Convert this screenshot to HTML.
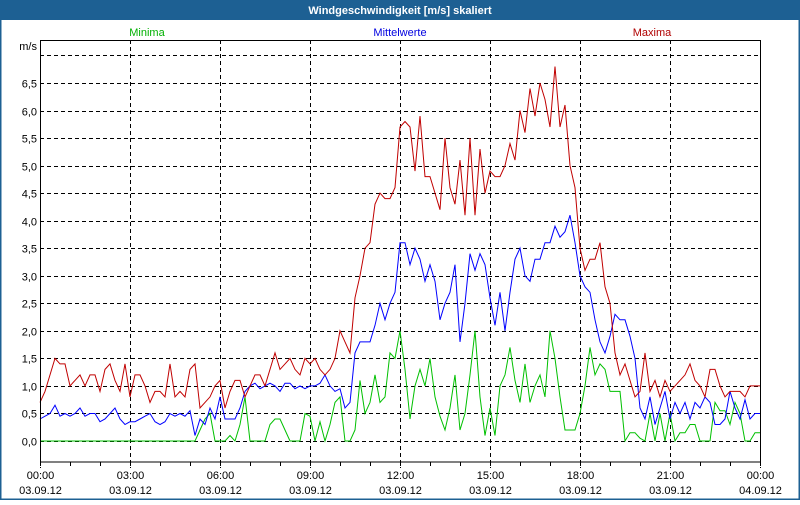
<!DOCTYPE html>
<html><head><meta charset="utf-8"><style>
body{margin:0;background:#fff}
svg text{font-family:"Liberation Sans",sans-serif;font-size:11px}
</style></head><body>
<svg width="800" height="500" xmlns="http://www.w3.org/2000/svg">
<rect x="0" y="0" width="800" height="500" fill="#fff"/>
<rect x="0.5" y="0.5" width="799" height="499" fill="none" stroke="#1d6093" stroke-width="2"/>
<rect x="0" y="0" width="800" height="20" fill="#1d6093"/>
<text x="400" y="14" text-anchor="middle" fill="#fff" font-weight="bold">Windgeschwindigkeit [m/s] skaliert</text>
<text x="147" y="36" text-anchor="middle" fill="#00b000">Minima</text>
<text x="400" y="36" text-anchor="middle" fill="#0000e0">Mittelwerte</text>
<text x="652" y="36" text-anchor="middle" fill="#b00000">Maxima</text>
<text x="37" y="50" text-anchor="end" fill="#000">m/s</text>
<g id="grid"></g>
<g id="series"></g>
<rect x="40.5" y="40.5" width="720" height="421.5" fill="none" stroke="#000"/>
<g id="axes"></g>
</svg>
<script>
const yTicks=[0,0.5,1,1.5,2,2.5,3,3.5,4,4.5,5,5.5,6,6.5,7];
const xTimeLabels=["00:00","03:00","06:00","09:00","12:00","15:00","18:00","21:00","00:00"];
const xDateLabels=["03.09.12","03.09.12","03.09.12","03.09.12","03.09.12","03.09.12","03.09.12","03.09.12","04.09.12"];
const maxima=[0.7,0.9,1.2,1.5,1.4,1.4,1.0,1.1,1.2,1.0,1.2,1.2,0.9,1.3,1.4,1.1,0.9,1.4,0.8,1.2,1.2,1.0,0.7,0.9,0.9,0.8,1.4,0.8,0.9,0.8,1.3,1.4,0.6,0.7,0.8,1.0,1.1,0.6,0.9,1.1,1.1,0.8,1.0,1.2,1.2,1.0,1.3,1.6,1.3,1.4,1.5,1.3,1.2,1.5,1.4,1.5,1.3,1.2,1.3,1.5,2.0,1.8,1.6,2.6,3.0,3.5,3.6,4.3,4.5,4.4,4.4,4.6,5.7,5.8,5.7,4.9,5.9,4.8,4.8,4.5,4.2,5.5,4.6,4.3,5.1,4.1,5.5,4.1,5.3,4.5,4.9,4.8,4.8,5.0,5.4,5.1,6.0,5.6,6.4,5.9,6.5,6.2,5.7,6.8,5.7,6.1,5.0,4.6,3.5,3.1,3.3,3.3,3.6,2.8,2.5,1.6,1.2,1.4,1.1,0.8,0.9,1.6,0.9,1.1,0.8,1.1,0.9,1.0,1.1,1.2,1.4,1.1,1.0,0.8,1.3,1.3,1.0,0.8,0.9,0.9,0.9,0.8,1.0,1.0,1.0];
const mittel=[0.4,0.45,0.5,0.65,0.45,0.5,0.45,0.5,0.6,0.45,0.5,0.5,0.35,0.4,0.5,0.6,0.4,0.3,0.35,0.35,0.4,0.45,0.5,0.35,0.3,0.35,0.5,0.45,0.5,0.45,0.55,0.1,0.4,0.3,0.6,0.4,0.8,0.4,0.4,0.4,0.6,0.9,1.0,1.05,0.95,1.0,1.05,1.0,0.9,1.05,1.05,0.95,1.0,0.95,1.0,1.0,1.05,1.2,1.0,0.9,0.95,0.6,0.7,1.6,1.8,1.8,1.8,2.1,2.5,2.2,2.5,2.7,3.6,3.6,3.2,3.5,3.3,2.9,3.2,2.9,2.2,2.5,2.7,3.2,1.8,2.5,3.4,3.1,3.4,3.2,2.6,2.1,2.7,2.0,2.7,3.3,3.5,3.0,2.9,3.3,3.3,3.6,3.6,3.9,3.7,3.8,4.1,3.6,3.0,2.8,2.7,2.2,1.8,1.6,1.9,2.3,2.2,2.2,1.9,1.5,0.6,0.4,0.8,0.3,0.6,0.9,0.4,0.7,0.5,0.7,0.4,0.7,0.6,0.8,0.7,0.3,0.3,0.4,0.9,0.6,0.4,0.75,0.4,0.5,0.5];
const minima=[0,0,0,0,0,0,0,0,0,0,0,0,0,0,0,0,0,0,0,0,0,0,0,0,0,0,0,0,0,0,0,0,0.2,0.4,0.5,0,0,0,0.1,0,0.3,0.8,0,0,0,0,0.3,0.4,0.4,0.2,0,0,0,0.5,0.45,0,0.35,0,0.3,0.7,0.8,0,0,0.2,1.1,0.5,0.7,1.2,0.7,0.8,1.6,1.5,2.0,1.3,0.4,1.0,1.3,1.0,1.5,0.8,0.45,0.2,0.6,1.2,0.2,0.5,1.2,2.0,0.8,0.1,0.6,0.1,1.0,1.2,1.7,1.1,0.7,1.4,0.7,1.0,1.2,0.8,2.0,1.5,0.8,0.2,0.2,0.2,0.5,1.0,1.7,1.2,1.4,1.3,0.9,0.9,0.9,0,0.15,0.15,0.05,0,0.5,0,0.5,0,0.5,0,0.15,0.15,0.3,0.3,0,0,0,0.7,0.55,0.55,0.3,0.7,0.5,0,0,0.15,0.15];
const NS="http://www.w3.org/2000/svg";
const X0=40,X1=760,Y0=441,PER=55.08;
function xScale(i,n){return X0+(X1-X0)*i/(n-1);}
function yScale(v){return Y0-v*PER;}
function mk(tag,attrs,parent){const e=document.createElementNS(NS,tag);for(const k in attrs)e.setAttribute(k,attrs[k]);parent.appendChild(e);return e;}
const grid=document.getElementById('grid'),axes=document.getElementById('axes'),series=document.getElementById('series');
yTicks.forEach((v,i)=>{
  const y=Math.round(yScale(v))+0.5;
  const l=mk('line',{x1:X0,x2:X1,y1:y,y2:y,stroke:'#000','stroke-dasharray':'4,3'},grid);
  
  
  if(i<yTicks.length-1){
    const t=mk('text',{x:37,y:y+4,'text-anchor':'end',fill:'#000'},axes);
    t.textContent=v.toFixed(1).replace('.',',');
    
    
  }
});
for(let h=0;h<=24;h++){
  const x=X0+h*30+0.5;
  const tk=mk('line',{x1:x,x2:x,y1:462,y2:466,stroke:'#000'},axes);
  
  
}
xTimeLabels.forEach((lab,i)=>{
  const x=X0+i*90+0.5;
  const l=mk('line',{x1:x,x2:x,y1:40,y2:468,stroke:'#000','stroke-dasharray':'4,3'},grid);
  
  
  const t=mk('text',{x:x,y:479,'text-anchor':'middle',fill:'#000'},axes);
  t.textContent=lab;
  
  
  const d=mk('text',{x:x,y:494,'text-anchor':'middle',fill:'#000'},axes);
  d.textContent=xDateLabels[i];
  
  
});
[[minima,'#00c000','minima-line'],[mittel,'#0000ff','mittelwerte-line'],[maxima,'#c00000','maxima-line']].forEach(([arr,c,name])=>{
  const pts=arr.map((v,i)=>xScale(i,arr.length).toFixed(1)+','+yScale(v).toFixed(1)).join(' ');
  const p=mk('polyline',{points:pts,fill:'none',stroke:c,'stroke-width':1},series);
  
  
});
</script>
</body></html>
